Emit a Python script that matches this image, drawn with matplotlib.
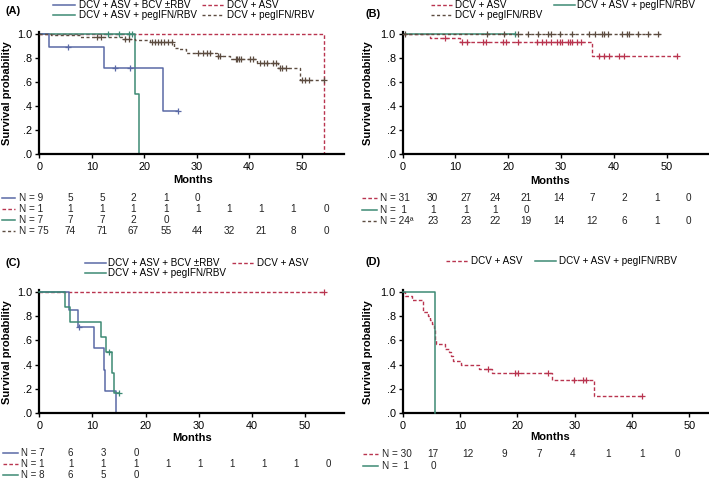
import matplotlib
matplotlib.use("Agg")
import matplotlib.pyplot as plt
from matplotlib.lines import Line2D
import numpy as np

plt.rcParams['font.family'] = ['Liberation Sans', 'DejaVu Sans']

W, H = 709, 480

# ---------------- colours / styles ----------------
C_BLUE = "#5a69a6"
C_RED = "#b9344f"
C_GREEN = "#3d8a74"
C_DARK = "#5c4c40"
DASH = (0, (2.6, 1.6))
DOT = (0, (2.2, 1.8))

STY = {
    "bcv": dict(color=C_BLUE, ls="-", lw=1.1),
    "asv": dict(color=C_RED, ls=DASH, lw=1.0),
    "peg": dict(color=C_GREEN, ls="-", lw=1.1),
    "dpr": dict(color=C_DARK, ls=DOT, lw=1.0),
}

LBL_BCV = "DCV + ASV + BCV \u00b1RBV"
LBL_ASV = "DCV + ASV"
LBL_PEG = "DCV + ASV + pegIFN/RBV"
LBL_DPR = "DCV + pegIFN/RBV"

# ---------------- data: panel A ----------------
A_bcv_t = [0, 1.85, 12.4, 23.6, 26.5]
A_bcv_s = [1.0, 0.889, 0.711, 0.356, 0.356]
A_bcv_cens_t = [5.5, 14.4, 17.3, 26.5]
A_bcv_cens_s = [0.889, 0.711, 0.711, 0.356]

A_asv_t = [0, 54.2]
A_asv_s = [1.0, 0.0]

A_peg_t = [0, 18.3, 19.05]
A_peg_s = [1.0, 0.5, 0.0]
A_peg_cens_t = [13.1, 15.2, 17.0, 17.6]
A_peg_cens_s = [1.0, 1.0, 1.0, 1.0]

A_dpr_t = [0, 2.3, 7.8, 16.0, 18.2, 21.0, 25.7, 26.7, 28.0, 33.9, 36.4, 41.5, 45.4, 49.7, 54.2]
A_dpr_s = [1.0, 0.987, 0.973, 0.959, 0.945, 0.930, 0.885, 0.870, 0.840, 0.812, 0.788, 0.759, 0.712, 0.615, 0.615]
A_dpr_cens_t = [11.0, 11.8, 16.3, 17.0, 21.5, 22.0, 22.6, 23.2, 23.8, 24.5, 25.2,
                30.3, 31.2, 31.9, 32.5, 34.1, 34.5, 37.4, 37.7, 38.0, 38.4, 40.1, 40.8,
                42.1, 42.8, 43.3, 44.6, 45.1, 45.9, 46.2, 47.1, 50.0, 50.6, 51.3, 54.2]

# risk table A
A_risk_labels = ["N = 9", "N = 1", "N = 7", "N = 75"]
A_risk_bcv = ["5", "5", "2", "1", "0"]
A_risk_asv = ["1", "1", "1", "1", "1", "1", "1", "1", "0"]
A_risk_peg = ["7", "7", "2", "0"]
A_risk_dpr = ["74", "71", "67", "55", "44", "32", "21", "8", "0"]

# ---------------- data: panel B ----------------
B_asv_t = [0, 5.2, 10.9, 35.9, 51.9]
B_asv_s = [1.0, 0.968, 0.935, 0.817, 0.817]
B_asv_cens_t = [8.0, 11.2, 12.1, 15.2, 15.8, 19.0, 19.6, 21.9, 25.4, 26.4, 27.1, 28.0,
                29.3, 29.8, 30.2, 31.3, 31.6, 32.0, 33.0, 33.7, 37.2, 38.2, 39.1, 41.0, 42.0, 51.9]

B_peg_t = [0, 21.2]
B_peg_s = [1.0, 1.0]
B_peg_cens_t = [21.2]

B_dpr_t = [0, 48.7]
B_dpr_s = [1.0, 1.0]
B_dpr_cens_t = [0.45, 15.9, 19.2, 21.9, 23.8, 25.6, 27.6, 28.1, 29.7, 32.0, 35.2, 36.4,
                37.7, 38.2, 38.9, 41.5, 42.4, 42.9, 44.6, 46.5, 48.4]

B_risk_labels = ["N = 31", "N =  1", "N = 24\u00aa"]
B_risk_asv = ["30", "27", "24", "21", "14", "7", "2", "1", "0"]
B_risk_peg = ["1", "1", "1", "0"]
B_risk_dpr = ["23", "23", "22", "19", "14", "12", "6", "1", "0"]

# ---------------- data: panel C ----------------
C_bcv_t = [0, 5.65, 7.35, 10.35, 12.2, 12.4, 14.35]
C_bcv_s = [1.0, 0.857, 0.714, 0.536, 0.357, 0.179, 0.0]
C_bcv_cens_t = [7.5]
C_bcv_cens_s = [0.714]

C_asv_t = [0, 53.6]
C_asv_s = [1.0, 1.0]
C_asv_cens_t = [53.6]

C_peg_t = [0, 4.85, 5.8, 11.7, 12.5, 13.6, 14.15, 15.0]
C_peg_s = [1.0, 0.875, 0.75, 0.625, 0.5, 0.333, 0.167, 0.167]
C_peg_cens_t = [13.1, 15.0]
C_peg_cens_s = [0.5, 0.167]

C_risk_labels = ["N = 7", "N = 1", "N = 8"]
C_risk_bcv = ["6", "3", "0"]
C_risk_asv = ["1", "1", "1", "1", "1", "1", "1", "1", "0"]
C_risk_peg = ["6", "5", "0"]

# ---------------- data: panel D ----------------
D_asv_t = [0, 0.4, 1.6, 3.5, 3.6, 4.4, 4.8, 5.1, 5.4, 5.6, 5.75, 7.4, 8.0, 8.5, 8.8,
           10.2, 13.3, 15.5, 26.0, 33.4, 41.7]
D_asv_s = [1.0, 0.967, 0.933, 0.9, 0.833, 0.8, 0.767, 0.733, 0.7, 0.6, 0.567, 0.533,
           0.5, 0.467, 0.433, 0.4, 0.367, 0.330, 0.275, 0.138, 0.138]
D_asv_cens_t = [14.9, 19.6, 20.1, 25.4, 29.8, 31.4, 32.0, 41.7]
D_asv_cens_s = [0.367, 0.330, 0.330, 0.330, 0.275, 0.275, 0.275, 0.138]

D_peg_t = [0, 5.55]
D_peg_s = [1.0, 0.0]

D_risk_labels = ["N = 30", "N =  1"]
D_risk_asv = ["17", "12", "9", "7", "4", "1", "1", "0"]
D_risk_peg = ["0"]

# ---------------- helpers ----------------
fig = plt.figure(figsize=(W / 100, H / 100), dpi=100)


def fx(x):
    return x / W


def fy(y):
    return 1 - y / H


def make_ax(left, right, top, bottom, xmax, ytop):
    ax = fig.add_axes([fx(left), fy(bottom), fx(right) - fx(left), fy(top) - fy(bottom)])
    ax.set_xlim(0, xmax)
    ax.set_ylim(0, ytop)
    for s in ("top", "right"):
        ax.spines[s].set_visible(False)
    for s in ("left", "bottom"):
        ax.spines[s].set_linewidth(1.6)
        ax.spines[s].set_color("black")
    ax.set_xticks([0, 10, 20, 30, 40, 50])
    ax.set_yticks([0, 0.2, 0.4, 0.6, 0.8, 1.0])
    ax.set_yticklabels([".0", ".2", ".4", ".6", ".8", "1.0"])
    ax.tick_params(axis="both", direction="out", length=3, width=1.0, labelsize=7.8,
                   color="black", pad=2)
    ax.tick_params(axis="x", pad=3)
    ax.patch.set_alpha(0)
    return ax


def km(ax, t, s, key, z=2):
    st = STY[key]
    ax.step(t, s, where="post", color=st["color"], linestyle=st["ls"], lw=st["lw"],
            zorder=z, clip_on=False)


def cens(ax, t, s, key, z=3):
    ax.plot(t, s, linestyle="none", marker="+", markersize=5, markeredgewidth=0.9,
            color=STY[key]["color"], zorder=z, clip_on=False)


def legline(x0, x1, y, key):
    st = STY[key]
    fig.add_artist(Line2D([fx(x0), fx(x1)], [fy(y), fy(y)], color=st["color"],
                          linestyle=st["ls"], lw=st["lw"], transform=fig.transFigure))


def ftext(x, y, s, **kw):
    fig.text(fx(x), fy(y), s, **kw)


def risk_row(y, lx0, lx1, tx, key, label, cols, vals, fs=7.2):
    legline(lx0, lx1, y, key)
    ftext(tx, y, label, fontsize=fs, ha="left", va="center", color="#222222")
    for cx, v in zip(cols, vals):
        ftext(cx, y, v, fontsize=fs, ha="center", va="center", color="#222222")


def panel_text(label, lx, ly, mx, my, yx, yy):
    ftext(lx, ly, label, fontsize=7.8, fontweight="bold", ha="left", va="center")
    ftext(mx, my, "Months", fontsize=8, fontweight="bold", ha="center", va="center")
    ftext(yx, yy, "Survival probability", fontsize=8, fontweight="bold", ha="center",
          va="center", rotation=90)


# ---------------- panel A ----------------
axA = make_ax(39.3, 344, 31.7, 154, 58.06, 1.0166)
km(axA, A_asv_t, A_asv_s, "asv", 1)
km(axA, A_peg_t, A_peg_s, "peg", 2)
km(axA, A_bcv_t, A_bcv_s, "bcv", 2)
km(axA, A_dpr_t, A_dpr_s, "dpr", 3)
cens(axA, A_bcv_cens_t, A_bcv_cens_s, "bcv")
cens(axA, A_peg_cens_t, A_peg_cens_s, "peg")
_idx = np.searchsorted(A_dpr_t, A_dpr_cens_t, side="right") - 1
cens(axA, A_dpr_cens_t, [A_dpr_s[i] for i in _idx], "dpr", 4)

panel_text("(A)", 5, 11, 192.7, 180, 7, 93.3)
legline(53, 75, 5, "bcv"); ftext(79, 5, LBL_BCV, fontsize=7.1, va="center")
legline(202, 224, 5, "asv"); ftext(227, 5, LBL_ASV, fontsize=7.1, va="center")
legline(53, 75, 15, "peg"); ftext(79, 15, LBL_PEG, fontsize=7.1, va="center")
legline(202, 224, 15, "dpr"); ftext(227, 15, LBL_DPR, fontsize=7.1, va="center")

A_cols = [70, 102, 133.3, 166, 197.7, 229.3, 261.3, 293.3, 326.7]
A_rows = [198, 209, 220, 231]
risk_row(A_rows[0], 2, 15, 19, "bcv", A_risk_labels[0], A_cols, A_risk_bcv)
risk_row(A_rows[1], 2, 15, 19, "asv", A_risk_labels[1], A_cols, A_risk_asv)
risk_row(A_rows[2], 2, 15, 19, "peg", A_risk_labels[2], A_cols, A_risk_peg)
risk_row(A_rows[3], 2, 15, 19, "dpr", A_risk_labels[3], A_cols, A_risk_dpr)

# ---------------- panel B ----------------
axB = make_ax(402.7, 707.7, 31.7, 154, 57.77, 1.0166)
km(axB, B_asv_t, B_asv_s, "asv", 2)
km(axB, B_peg_t, B_peg_s, "peg", 2)
km(axB, B_dpr_t, B_dpr_s, "dpr", 3)
_idx = np.searchsorted(B_asv_t, B_asv_cens_t, side="right") - 1
cens(axB, B_asv_cens_t, [B_asv_s[i] for i in _idx], "asv")
cens(axB, B_peg_cens_t, [1.0] * len(B_peg_cens_t), "peg")
cens(axB, B_dpr_cens_t, [1.0] * len(B_dpr_cens_t), "dpr", 4)

panel_text("(B)", 365, 14, 550, 181, 368, 93.3)
legline(431, 452, 4.7, "asv"); ftext(455, 4.7, LBL_ASV, fontsize=7.1, va="center")
legline(554, 575, 4.7, "peg"); ftext(577, 4.7, LBL_PEG, fontsize=7.1, va="center")
legline(431, 452, 15, "dpr"); ftext(455, 15, LBL_DPR, fontsize=7.1, va="center")

B_cols = [432.7, 466, 495, 526, 559, 592, 624, 657, 688]
B_rows = [197.7, 209.7, 221]
risk_row(B_rows[0], 362, 377, 380, "asv", B_risk_labels[0], B_cols, B_risk_asv)
risk_row(B_rows[1], 362, 377, 380, "peg", B_risk_labels[1], B_cols, B_risk_peg)
risk_row(B_rows[2], 362, 377, 380, "dpr", B_risk_labels[2], B_cols, B_risk_dpr)

# ---------------- panel C ----------------
axC = make_ax(39.3, 344, 290, 412.7, 57.34, 1.019)
km(axC, C_asv_t, C_asv_s, "asv", 1)
km(axC, C_bcv_t, C_bcv_s, "bcv", 2)
km(axC, C_peg_t, C_peg_s, "peg", 3)
cens(axC, C_bcv_cens_t, C_bcv_cens_s, "bcv")
cens(axC, C_peg_cens_t, C_peg_cens_s, "peg")
cens(axC, C_asv_cens_t, [1.0] * len(C_asv_cens_t), "asv")

panel_text("(C)", 5, 262.7, 192, 437.7, 7, 351.7)
legline(85, 106, 262.7, "bcv"); ftext(108, 262.7, LBL_BCV, fontsize=7.1, va="center")
legline(232, 254, 262.7, "asv"); ftext(257, 262.7, LBL_ASV, fontsize=7.1, va="center")
legline(85, 106, 272.7, "peg"); ftext(108, 272.7, LBL_PEG, fontsize=7.1, va="center")

C_cols = [70.7, 103, 136, 168, 200, 232, 264, 296, 328]
C_rows = [452.8, 464.3, 475.2]
risk_row(C_rows[0], 3, 18, 21, "bcv", C_risk_labels[0], C_cols, C_risk_bcv, 7.0)
risk_row(C_rows[1], 3, 18, 21, "asv", C_risk_labels[1], C_cols, C_risk_asv, 7.0)
risk_row(C_rows[2], 3, 18, 21, "peg", C_risk_labels[2], C_cols, C_risk_peg, 7.0)

# ---------------- panel D ----------------
axD = make_ax(402.7, 707.7, 290, 412.7, 53.21, 1.019)
km(axD, D_asv_t, D_asv_s, "asv", 2)
km(axD, D_peg_t, D_peg_s, "peg", 3)
cens(axD, D_asv_cens_t, D_asv_cens_s, "asv")

panel_text("(D)", 365, 261.7, 550, 437.3, 368, 351.7)
legline(446, 468, 260.7, "asv"); ftext(471, 260.7, LBL_ASV, fontsize=7.1, va="center")
legline(535, 556, 260.7, "peg"); ftext(559, 260.7, LBL_PEG, fontsize=7.1, va="center")

D_cols = [433, 468, 504, 539, 573, 608, 642, 677]
D_rows = [454.3, 465.7]
risk_row(D_rows[0], 363, 378, 382, "asv", D_risk_labels[0], D_cols, D_risk_asv)
risk_row(D_rows[1], 363, 378, 382, "peg", D_risk_labels[1], D_cols, D_risk_peg)

fig.savefig("out.png", dpi=100)
